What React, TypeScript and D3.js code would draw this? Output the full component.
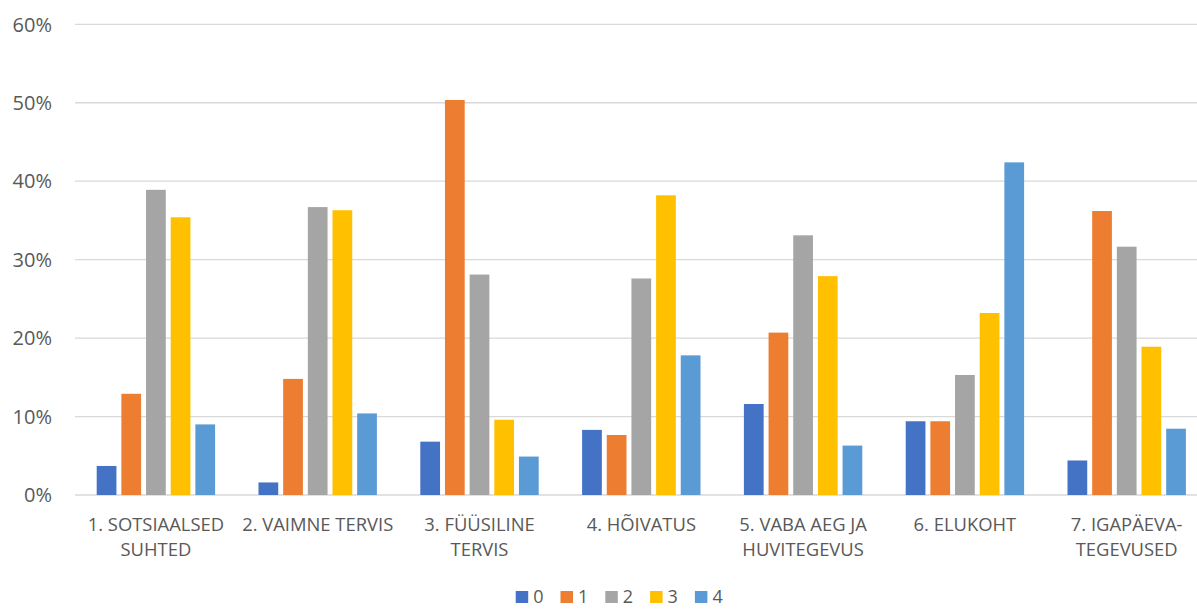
import React from "react";
import * as d3 from "d3";

const categories: string[][] = [
  ["1. SOTSIAALSED", "SUHTED"],
  ["2. VAIMNE TERVIS"],
  ["3. FÜÜSILINE", "TERVIS"],
  ["4. HÕIVATUS"],
  ["5. VABA AEG JA", "HUVITEGEVUS"],
  ["6. ELUKOHT"],
  ["7. IGAPÄEVA-", "TEGEVUSED"],
];
const seriesNames = ["0", "1", "2", "3", "4"];
const s0 = [3.7, 1.6, 6.8, 8.3, 11.6, 9.4, 4.4];
const s1 = [12.9, 14.8, 50.35, 7.65, 20.7, 9.4, 36.2];
const s2 = [38.9, 36.7, 28.1, 27.6, 33.1, 15.3, 31.65];
const s3 = [35.4, 36.3, 9.6, 38.2, 27.9, 23.2, 18.9];
const s4 = [9.0, 10.4, 4.9, 17.8, 6.3, 42.4, 8.45];
const seriesValues = [s0, s1, s2, s3, s4];
const colors = ["#4472C4", "#ED7D31", "#A5A5A5", "#FFC000", "#5B9BD5"];
const yTicks = [0, 10, 20, 30, 40, 50, 60];

const W = 1197;
const H = 610;
const FONT = "'Open Sans', 'Noto Sans', sans-serif";

export default function App() {
  const x0 = d3
    .scaleBand<number>()
    .domain(categories.map((_, i) => i))
    .range([75, 75 + 7 * 161.8])
    .paddingInner(0)
    .paddingOuter(0);
  const inner = d3
    .scaleBand<number>()
    .domain(seriesNames.map((_, i) => i))
    .range([21.7, 161.8 - 21.7])
    .paddingInner(0.2)
    .paddingOuter(0);
  const y = d3.scaleLinear().domain([0, 60]).range([495, 24.3]);

  return (
    <svg
      width={W}
      height={H}
      style={{ position: "absolute", left: 0, top: 0, background: "#fff" }}
      fontFamily={FONT}
    >
      {yTicks.map((t) => (
        <g key={t}>
          <line
            x1={75}
            x2={W}
            y1={y(t)}
            y2={y(t)}
            stroke="#D9D9D9"
            strokeWidth={t === 0 ? 1.5 : 1.3}
          />
          <text
            x={52}
            y={y(t)}
            dy="0.36em"
            textAnchor="end"
            fontSize={20}
            fill="#595959"
          >
            {t}%
          </text>
        </g>
      ))}
      {seriesValues.map((vals, si) =>
        vals.map((v, ci) => (
          <rect
            key={`${si}-${ci}`}
            x={(x0(ci) as number) + (inner(si) as number)}
            y={y(v)}
            width={inner.bandwidth()}
            height={y(0) - y(v)}
            fill={colors[si]}
          />
        ))
      )}
      {categories.map((lines, ci) => (
        <text
          key={ci}
          x={(x0(ci) as number) + x0.bandwidth() / 2}
          y={530.5}
          textAnchor="middle"
          fontSize={18.4}
          fill="#595959"
        >
          {lines.map((l, li) => (
            <tspan key={li} x={(x0(ci) as number) + x0.bandwidth() / 2} dy={li === 0 ? 0 : 25}>
              {l}
            </tspan>
          ))}
        </text>
      ))}
      {seriesNames.map((n, si) => (
        <g key={n} transform={`translate(${515.7 + si * 44.8},0)`}>
          <rect x={0} y={591} width={12.5} height={12} fill={colors[si]} />
          <text x={17.5} y={597} dy="0.36em" fontSize={18} fill="#595959">
            {n}
          </text>
        </g>
      ))}
    </svg>
  );
}
